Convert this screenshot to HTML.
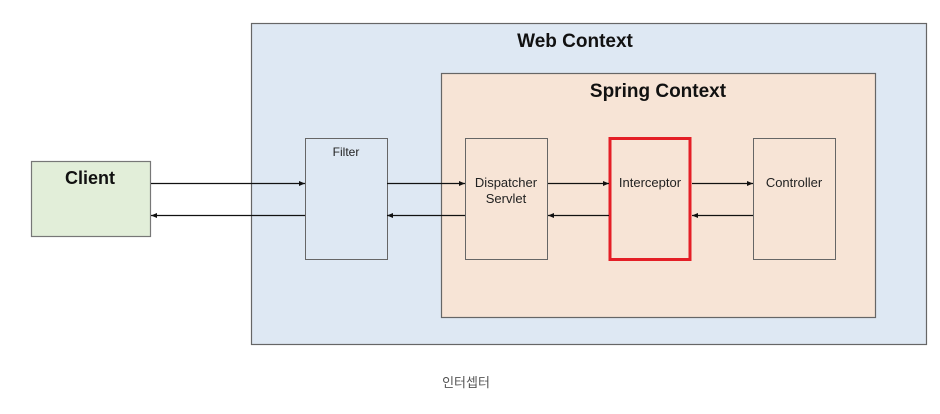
<!DOCTYPE html>
<html><head><meta charset="utf-8"><style>
body{margin:0;background:#fff;width:940px;height:414px;overflow:hidden;font-family:"Liberation Sans","Noto Sans CJK KR",sans-serif}
</style></head><body>
<svg width="940" height="414" xmlns="http://www.w3.org/2000/svg" style="position:absolute;left:0;top:0">
<defs><marker id="a" markerWidth="6" markerHeight="6" refX="6" refY="3" orient="auto" markerUnits="userSpaceOnUse"><path d="M0,0.5 L6,3 L0,5.5z" fill="#111"/></marker></defs>
<rect x="251.5" y="23.5" width="675" height="321" fill="#dee8f3" stroke="#666" stroke-width="1.2"/>
<text x="575" y="47" text-anchor="middle" font-weight="bold" font-size="19" fill="#111">Web Context</text>
<rect x="441.5" y="73.5" width="434" height="244" fill="#f7e4d6" stroke="#666" stroke-width="1.2"/>
<text x="658" y="97" text-anchor="middle" font-weight="bold" font-size="19" fill="#111">Spring Context</text>
<rect x="31.5" y="161.5" width="119" height="75" fill="#e2eed9" stroke="#777" stroke-width="1.2"/>
<text x="90" y="184" text-anchor="middle" font-weight="bold" font-size="18" fill="#111">Client</text>
<rect x="305.5" y="138.5" width="82" height="121" fill="#dee8f3" stroke="#666"/>
<text x="346" y="156" text-anchor="middle" font-size="12" fill="#222">Filter</text>
<rect x="465.5" y="138.5" width="82" height="121" fill="#f7e4d6" stroke="#666"/>
<text x="506" y="187" text-anchor="middle" font-size="13" fill="#222">Dispatcher</text>
<text x="506" y="203" text-anchor="middle" font-size="13" fill="#222">Servlet</text>
<rect x="610" y="138.5" width="80" height="121" fill="#f7e4d6" stroke="#e41e26" stroke-width="3"/>
<text x="650" y="187" text-anchor="middle" font-size="13" fill="#222">Interceptor</text>
<rect x="753.5" y="138.5" width="82" height="121" fill="#f7e4d6" stroke="#666"/>
<text x="794" y="187" text-anchor="middle" font-size="13" fill="#222">Controller</text>
<g stroke="#111" stroke-width="1.3">
<line x1="151" y1="183.5" x2="305" y2="183.5" marker-end="url(#a)"/>
<line x1="305" y1="215.5" x2="151" y2="215.5" marker-end="url(#a)"/>
<line x1="387" y1="183.5" x2="465" y2="183.5" marker-end="url(#a)"/>
<line x1="465" y1="215.5" x2="387" y2="215.5" marker-end="url(#a)"/>
<line x1="548" y1="183.5" x2="609" y2="183.5" marker-end="url(#a)"/>
<line x1="609" y1="215.5" x2="548" y2="215.5" marker-end="url(#a)"/>
<line x1="692" y1="183.5" x2="753" y2="183.5" marker-end="url(#a)"/>
<line x1="753" y1="215.5" x2="692" y2="215.5" marker-end="url(#a)"/>
</g>
<text x="466" y="387" text-anchor="middle" font-size="13" fill="#555">인터셉터</text>
</svg>
</body></html>
